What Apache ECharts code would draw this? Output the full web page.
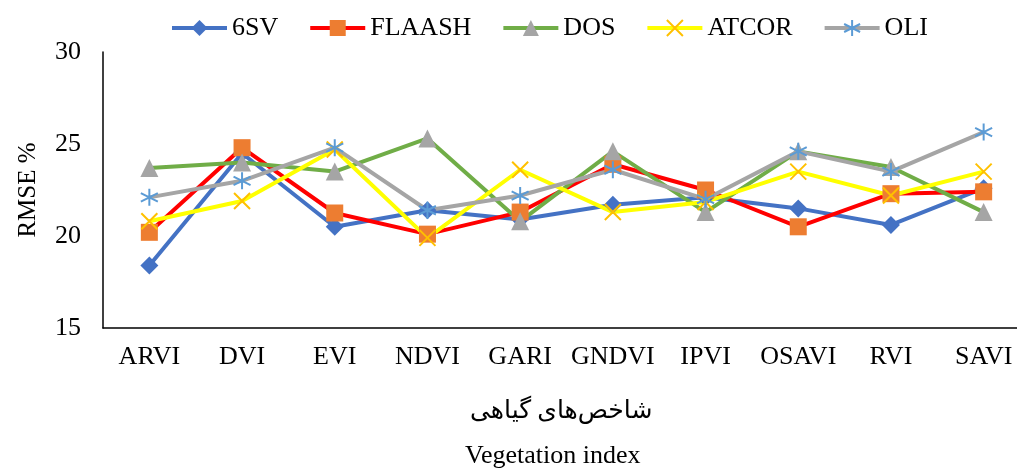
<!DOCTYPE html>
<html>
<head>
<meta charset="utf-8">
<script src="https://cdn.jsdelivr.net/npm/echarts@6/dist/echarts.min.js"></script>
<style>html,body{margin:0;padding:0;background:#fff;overflow:hidden}#c{width:1040px;height:470px}</style>
</head>
<body>
<div id="c"></div>
<script>
const categories = ['ARVI','DVI','EVI','NDVI','GARI','GNDVI','IPVI','OSAVI','RVI','SAVI'];
const sv6    = [18.4, 24.5, 20.5, 21.4, 20.9, 21.7, 22.1, 21.5, 20.6, 22.6];
const flaash = [20.2, 24.8, 21.25, 20.1, 21.3, 23.9, 22.5, 20.5, 22.3, 22.4];
const dos    = [23.7, 24.0, 23.5, 25.3, 20.8, 24.6, 21.3, 24.6, 23.75, 21.3];
const atcor  = [20.8, 21.9, 24.7, 19.9, 23.6, 21.3, 21.85, 23.5, 22.2, 23.5];
const oli    = [22.1, 23.0, 24.8, 21.4, 22.2, 23.6, 22.0, 24.6, 23.5, 25.65];
const yTicks = {min: 15, max: 30, interval: 5};
const yName = 'RMSE %';
const xNameFa = 'شاخص‌های گیاهی';
const xNameEn = 'Vegetation index';

const FONT = '"Liberation Serif", "Times New Roman", "DejaVu Serif", serif';
const FONT_FA = '"Liberation Serif", "DejaVu Sans", serif';
const X_PATH = 'path://M0,0 L10,10 M10,0 L0,10';
const STAR_PATH = 'path://M5,0 L5,10 M0.7,2.5 L9.3,7.5 M0.7,7.5 L9.3,2.5';

function mk(name, data, lineColor, symbol, symColor, size, stroke) {
  return {
    name, type: 'line', data,
    symbol, symbolSize: size,
    lineStyle: {color: lineColor, width: 4},
    itemStyle: stroke
      ? {color: symColor, borderColor: symColor, borderWidth: 2}
      : {color: symColor, borderWidth: 0},
    emphasis: {disabled: true},
    z: 2
  };
}

const chart = echarts.init(document.getElementById('c'), null, {renderer: 'canvas'});
chart.setOption({
  animation: false,
  backgroundColor: '#fff',
  legend: {
    left: 165, top: 10,
    itemWidth: 55, itemHeight: 20, itemGap: 30,
    lineStyle: {width: 4},
    textStyle: {fontFamily: FONT, fontSize: 26, color: '#000'},
    data: ['6SV','FLAASH','DOS','ATCOR','OLI']
  },
  grid: {left: 103, top: 52, width: 927, height: 276, containLabel: false},
  xAxis: {
    type: 'category', data: categories, boundaryGap: true,
    axisLine: {show: true, lineStyle: {color: '#000', width: 1.5}},
    axisTick: {show: false},
    axisLabel: {fontFamily: FONT, fontSize: 26, color: '#000', margin: 16, interval: 0}
  },
  yAxis: {
    type: 'value', min: yTicks.min, max: yTicks.max, interval: yTicks.interval,
    name: yName, nameLocation: 'middle', nameGap: 62, nameRotate: 90,
    nameTextStyle: {fontFamily: FONT, fontSize: 25, color: '#000'},
    axisLine: {show: true, lineStyle: {color: '#000', width: 1.5}},
    axisTick: {show: false},
    splitLine: {show: false},
    axisLabel: {fontFamily: FONT, fontSize: 26, color: '#000', margin: 22}
  },
  graphic: [
    {type: 'text', left: 470, top: 399, style: {text: xNameFa, font: '25px ' + FONT_FA, fill: '#000'}},
    {type: 'text', left: 465, top: 443, style: {text: xNameEn, font: '26px ' + FONT, fill: '#000'}}
  ],
  series: [
    mk('6SV', sv6, '#4472C4', 'diamond', '#4472C4', 18, false),
    mk('FLAASH', flaash, '#FF0000', 'rect', '#ED7D31', 17, false),
    mk('DOS', dos, '#70AD47', 'triangle', '#A5A5A5', 18, false),
    mk('ATCOR', atcor, '#FFFF00', X_PATH, '#FFC000', 16, true),
    mk('OLI', oli, '#A5A5A5', STAR_PATH, '#5B9BD5', 17, true)
  ]
});
</script>
</body>
</html>
